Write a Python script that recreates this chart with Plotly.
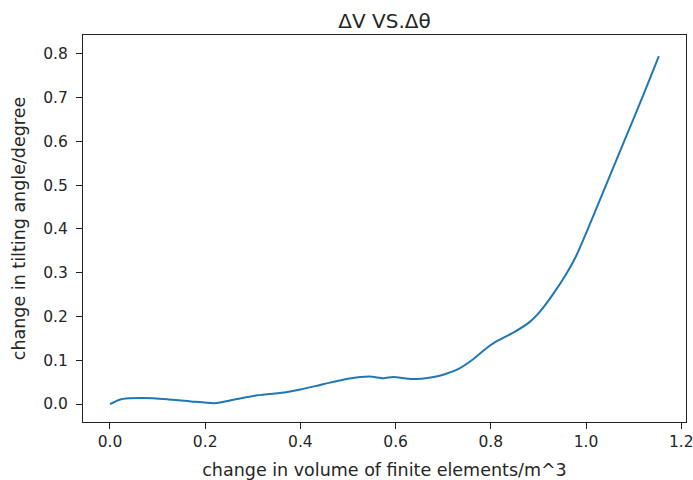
import plotly.graph_objects as go

volume_change = [0.0, 0.02, 0.04, 0.07, 0.12, 0.17, 0.22, 0.26, 0.31, 0.37, 0.40, 0.45,
                 0.50, 0.545, 0.575, 0.595, 0.635, 0.68, 0.70, 0.73, 0.76, 0.79, 0.81,
                 0.85, 0.88, 0.90, 0.93, 0.96, 0.98, 1.00, 1.04, 1.08, 1.12, 1.153]
angle_change = [0.0, 0.01, 0.013, 0.014, 0.011, 0.006, 0.002, 0.01, 0.02, 0.027, 0.033, 0.046,
                0.058, 0.063, 0.059, 0.062, 0.057, 0.062, 0.067, 0.079, 0.1, 0.127, 0.142,
                0.165, 0.186, 0.207, 0.25, 0.3, 0.34, 0.39, 0.495, 0.6, 0.705, 0.795]

x_ticks = [0.0, 0.2, 0.4, 0.6, 0.8, 1.0, 1.2]
y_ticks = [0.0, 0.1, 0.2, 0.3, 0.4, 0.5, 0.6, 0.7, 0.8]

font = "DejaVu Sans"
W, H = 693, 480
L, R, T, B = 83, 7, 35, 58

fig = go.Figure()
fig.add_trace(go.Scatter(
    x=volume_change, y=angle_change, mode="lines",
    line=dict(color="#1f77b4", width=2, shape="spline", smoothing=0.6),
    showlegend=False,
))

axis_common = dict(
    showline=True, linecolor="#222222", linewidth=1, mirror=True,
    ticks="outside", ticklen=6, tickcolor="#222222", tickwidth=1,
    showgrid=False, zeroline=False, ticklabeloverflow="allow",
    tickfont=dict(family=font, size=15.5, color="#262626"),
)

fig.update_layout(
    width=W, height=H,
    margin=dict(l=L, r=R, t=T, b=B),
    paper_bgcolor="white", plot_bgcolor="white",
    font=dict(family=font, size=15.5, color="#262626"),
    title=dict(text="ΔV VS.Δθ", x=(L + (W - R)) / 2 / W, xanchor="center",
               y=1 - 21 / H, yanchor="middle", yref="container",
               font=dict(family=font, size=20, color="#262626")),
    xaxis=dict(range=[-0.0567, 1.210], tickvals=x_ticks,
               ticktext=[f"{v:.1f}" for v in x_ticks], ticklabelstandoff=-1,
               title=dict(text="change in volume of finite elements/m^3", standoff=16,
                          font=dict(family=font, size=17.5)),
               automargin=False, **axis_common),
    yaxis=dict(range=[-0.041, 0.843], tickvals=y_ticks,
               ticktext=[f"{v:.1f}" for v in y_ticks], ticklabelstandoff=5,
               title=dict(text="change in tilting angle/degree", standoff=13,
                          font=dict(family=font, size=17.5)),
               automargin=False, **axis_common),
)

fig.write_html(
    "out.html",
    config={"displayModeBar": False},
    post_script="document.body.style.margin='0';document.body.style.overflow='hidden';",
)
